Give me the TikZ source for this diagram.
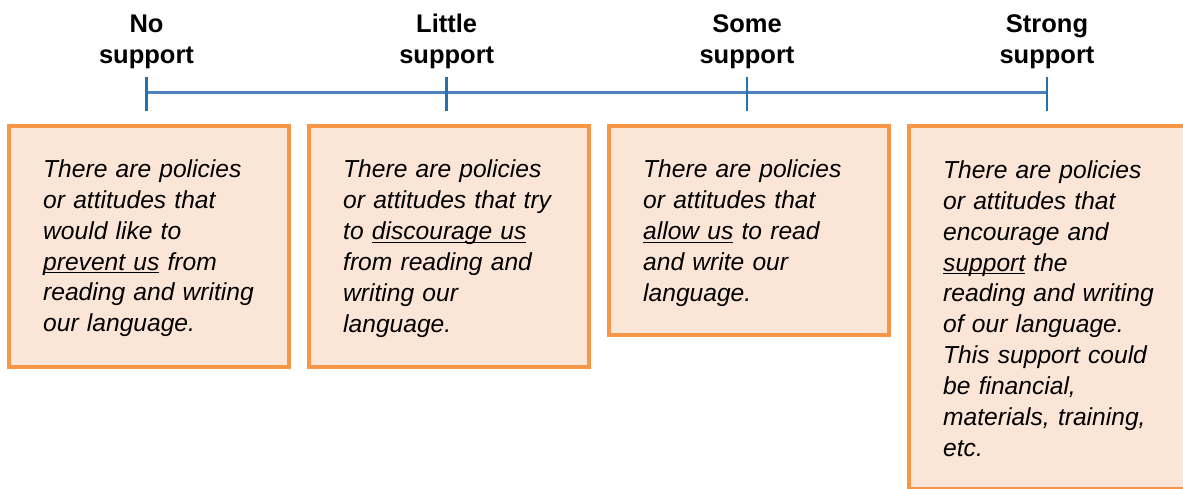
\documentclass[tikz,border=0pt]{standalone}
\usepackage{fontspec}
\setmainfont{Liberation Sans}
\definecolor{boxorange}{HTML}{F79646}
\definecolor{boxfill}{HTML}{FBE5D6}
\definecolor{linecol}{HTML}{4F81BD}
\definecolor{tickcol}{HTML}{2372B2}
\newcommand\myul[1]{\leavevmode\setbox0\hbox{#1}\rlap{\rule[-3.2pt]{\wd0}{1.3pt}}\box0\relax}
\begin{document}
\begin{tikzpicture}[x=1pt,y=-1pt,
  box/.style={draw=boxorange, fill=boxfill, line width=4pt, inner sep=0pt, minimum width=279.4pt},
  boxtext/.style={anchor=base west, inner sep=0pt, text width=260pt, align=left,
    font=\fontsize{24.6}{30.85}\selectfont\itshape},
  head/.style={anchor=base, inner sep=0pt, text width=160pt, align=center,
    font=\fontsize{25.5}{31}\selectfont\bfseries},
  tick/.style={draw=tickcol, line width=2.6pt},
  axis/.style={draw=linecol, line width=3.5pt}]
\useasboundingbox (0,0) rectangle (1183,489);
\clip (0,0) rectangle (1183,489);

% timeline
\coordinate (t1) at (146.5,92.5);
\coordinate (t2) at (446.7,92.5);
\coordinate (t3) at (747,92.5);
\coordinate (t4) at (1047,92.5);
\coordinate (t1a) at (146.5,76.7); \coordinate (t1b) at (146.5,111.5);
\coordinate (t2a) at (446.7,76.7); \coordinate (t2b) at (446.7,111.5);
\coordinate (t3a) at (747,76.7);   \coordinate (t3b) at (747,111.5);
\coordinate (t4a) at (1047,76.7);  \coordinate (t4b) at (1047,111.5);
\draw[axis] (t1) -- (t4);
\draw[tick] (t1a) -- (t1b);
\draw[tick] (t2a) -- (t2b);
\draw[tick] (t3a) -- (t3b);
\draw[tick] (t4a) -- (t4b);

% headers
\node[head] (h1) at (146.5,32.3) {No\\support};
\node[head] (h2) at (446.7,32.3) {Little\\support};
\node[head] (h3) at (747,32.3) {Some\\support};
\node[head] (h4) at (1047,32.3) {Strong\\support};

% boxes
\node[box, minimum height=241.3pt] (b1) at (149,246.7) {};
\node[box, minimum height=241.3pt] (b2) at (449,246.7) {};
\node[box, minimum height=208.8pt] (b3) at (749,230.9) {};
\node[box, minimum height=362.2pt] (b4) at (1049,307.4) {};

% texts
\node[boxtext] (x1) at (43,177.5) {There are policies\\or attitudes that\\would like to\\\myul{prevent us} from\\reading and writing\\our language.};
\node[boxtext] (x2) at (343,178) {There are policies\\or attitudes that try\\to \myul{discourage us}\\from reading and\\writing our\\language.};
\node[boxtext] (x3) at (643,178) {There are policies\\or attitudes that\\\myul{allow us} to read\\and write our\\language.};
\node[boxtext] (x4) at (943,178.5) {There are policies\\or attitudes that\\encourage and\\\myul{support} the\\reading and writing\\of our language.\\This support could\\be financial,\\materials, training,\\etc.};
\end{tikzpicture}
\end{document}
